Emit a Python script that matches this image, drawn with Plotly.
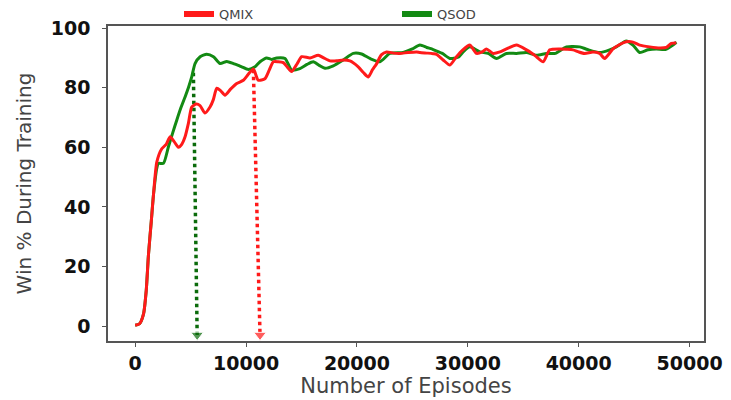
import plotly.graph_objects as go

# ---------------- data ----------------
qmix_ep = [0, 400, 750, 1000, 1200, 1450, 1650, 1950, 2400, 2800, 3150, 3500, 3900, 4200, 4500,
           4800, 5100, 5500, 5850, 6300, 6750, 7050, 7360, 7700, 8100, 8600, 9160, 9760, 10200,
           10660, 11100, 11700, 12100, 12460, 12900, 13360, 13700, 14100, 14600, 15020, 15770,
           16510, 17000, 17570, 18200, 18770, 19370, 20120, 20600, 21020, 21400, 21770, 22200,
           22670, 23300, 23870, 24600, 25380, 25680, 26400, 26880, 27180, 27780, 28380, 28980,
           29500, 30180, 30780, 31300, 31680, 32280, 32900, 33480, 34390, 35290, 35800, 36190,
           36790, 37390, 38290, 38900, 39490, 40000, 40540, 41290, 41890, 42340, 43090, 43700,
           44290, 44890, 45500, 46400, 47300, 47900, 48350, 48800]
qmix_win = [0.3, 0.8, 4, 12, 24, 35, 44, 55, 59.5, 61, 63.5, 62, 60, 61, 63.5,
            68, 73.5, 74.5, 74, 71.5, 73.5, 76, 79.8, 79, 77.5, 79.5, 81.4, 82.5, 84.5,
            86.3, 82.5, 83, 86, 88.7, 88.7, 88.4, 87, 85.4, 88, 90.4, 90,
            90.9, 90, 89, 89, 89.3, 89, 87, 85, 83.6, 86, 88, 91,
            92, 91.6, 91.5, 91.8, 92, 91.8, 91.6, 91.4, 91.2, 89.3, 87.6, 90.4,
            92.5, 94.3, 91.5, 92, 93, 91.5, 92, 93, 94.3, 92.7, 91.5, 90.4,
            88.7, 92.7, 93, 92.9, 92.7, 92, 91.5, 92, 91.5, 89.8, 93, 94.5,
            95.4, 95.3, 94.3, 93.7, 93.3, 93.5, 94.9, 95]

qsod_ep = [0, 400, 750, 1000, 1200, 1450, 1650, 1950, 2100, 2550, 3000, 3400, 3750, 4100, 4500,
           4800, 5100, 5400, 5860, 6450, 7060, 7660, 8260, 8860, 9300, 9610, 10210, 10810, 11260,
           11860, 12300, 12760, 13520, 14110, 14860, 15500, 16060, 16600, 17120, 17870, 18770,
           19670, 20420, 21170, 22070, 22970, 24170, 25000, 25680, 26300, 26880, 27700, 28380,
           29130, 29580, 30180, 31080, 31830, 32590, 33480, 34400, 35290, 36190, 37090, 37900,
           38890, 40090, 40800, 41890, 42790, 43390, 44290, 44890, 45500, 46250, 47000, 47800,
           48500, 48800]
qsod_win = [0.3, 0.8, 4, 12, 24, 35, 44, 53, 54.6, 54.6, 60.2, 65, 69.1, 73, 76.9,
            80, 83.6, 88.1, 90.4, 91.2, 90.4, 88.1, 88.8, 88.1, 87.5, 87, 86.1, 87, 88.7,
            90, 89.5, 90, 89.8, 85.9, 86.4, 87.8, 88.7, 87.5, 86.5, 87.3, 89.3,
            91.5, 91.3, 89.8, 88.7, 91.5, 91.8, 93, 94.3, 93.5, 92.8, 91.5, 89.8,
            90.2, 92, 93.7, 92, 91.5, 89.8, 91.5, 91.5, 91.8, 90.9, 91.5, 91.5,
            93.7, 93.7, 92.8, 91.8, 92.7, 93.7, 95.7, 94.3, 91.8, 92.7, 93, 92.8,
            94.3, 95.3]

# convergence markers (dotted arrows)
qsod_arrow_ep = [5250, 5590]
qsod_arrow_win = [85, -3]
qmix_arrow_ep = [10660, 11260]
qmix_arrow_win = [86, -3]

x_ticks = [0, 10000, 20000, 30000, 40000, 50000]
y_ticks = [0, 20, 40, 60, 80, 100]

RED = "#ff1a1a"
GREEN = "#138a13"
DGREEN = "#0b6b0b"

fig = go.Figure()

# arrows
fig.add_trace(go.Scatter(x=qsod_arrow_ep, y=qsod_arrow_win, mode="lines+markers",
                         line=dict(color=DGREEN, width=3.5, dash="dot"),
                         marker=dict(symbol=["circle", "triangle-down"], size=[0, 11], color=DGREEN),
                         showlegend=False, hoverinfo="skip"))
fig.add_trace(go.Scatter(x=qmix_arrow_ep, y=qmix_arrow_win, mode="lines+markers",
                         line=dict(color=RED, width=3.5, dash="dot"),
                         marker=dict(symbol=["circle", "triangle-down"], size=[0, 11], color=RED),
                         showlegend=False, hoverinfo="skip"))

# curves
fig.add_trace(go.Scatter(x=qsod_ep, y=qsod_win, mode="lines", name="QSOD",
                         line=dict(color=GREEN, width=3, shape="spline", smoothing=0.6),
                         showlegend=False))
fig.add_trace(go.Scatter(x=qmix_ep, y=qmix_win, mode="lines", name="QMIX",
                         line=dict(color=RED, width=3, shape="spline", smoothing=0.6),
                         showlegend=False))

# legend entries (thicker swatches)
fig.add_trace(go.Scatter(x=[None], y=[None], mode="lines", name="QMIX",
                         line=dict(color=RED, width=6)))
fig.add_trace(go.Scatter(x=[None], y=[None], mode="lines", name="QSOD",
                         line=dict(color=GREEN, width=6)))

L, R, T, B = 108, 27, 26, 59
pw = 731 - L - R

fig.update_layout(
    width=731, height=400,
    margin=dict(l=L, r=R, t=T, b=B, autoexpand=False),
    paper_bgcolor="white", plot_bgcolor="white",
    font=dict(family="DejaVu Sans", color="#222"),
    legend=dict(orientation="h", x=(179 - L) / pw, xanchor="left", y=0.99, yanchor="bottom",
                entrywidth=173, entrywidthmode="pixels",
                font=dict(size=13, color="#444", family="DejaVu Sans"),
                bgcolor="rgba(0,0,0,0)", itemwidth=30, tracegroupgap=0),
    xaxis=dict(range=[-2450, 51300], tickvals=x_ticks, ticktext=[str(v) for v in x_ticks],
               showgrid=False, zeroline=False, showline=True, linecolor="#555", linewidth=1.5,
               mirror=True, ticks="outside", ticklen=4, tickcolor="#555",
               tickfont=dict(size=19, family="DejaVu Sans", weight="bold", color="#111"),
               title=dict(text="Number of Episodes", font=dict(size=21, color="#444"), standoff=2)),
    yaxis=dict(range=[-5, 100.7], tickvals=y_ticks,
               showgrid=False, zeroline=False, showline=True, linecolor="#555", linewidth=1.5,
               mirror=True, ticks="outside", ticklen=4, tickcolor="#555",
               ticklabelstandoff=8,
               tickfont=dict(size=19, family="DejaVu Sans", weight="bold", color="#111"),
               title=dict(text="Win % During Training", font=dict(size=20, color="#444"), standoff=14)),
)

fig.write_html("out.html")
